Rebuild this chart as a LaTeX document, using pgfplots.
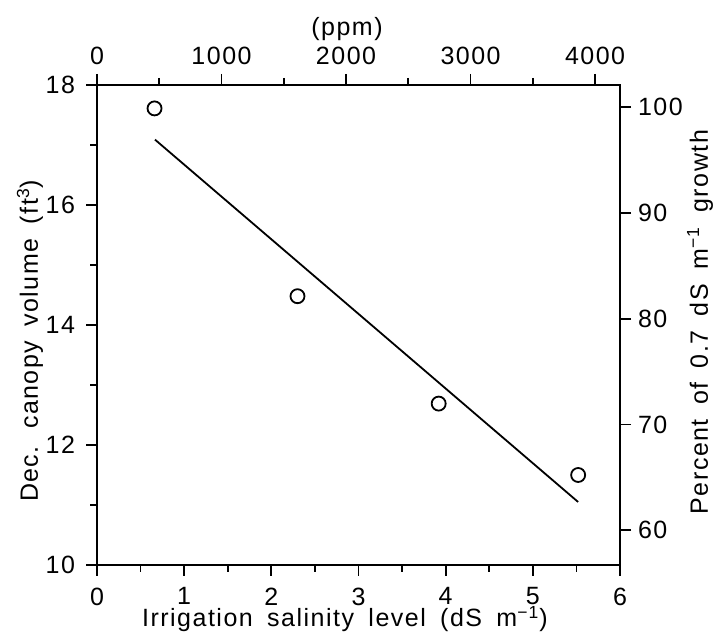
\documentclass[border=0pt]{standalone}
\usepackage{fontspec}
\setmainfont{Liberation Sans}[LetterSpace=6, WordSpace=1.7]
\usepackage{pgfplots}
\pgfplotsset{compat=1.18}
\begin{document}
\begin{tikzpicture}
\pgfplotsset{
  base/.style={
    scale only axis, width=261.5pt, height=240pt,
    font=\fontsize{12.5}{14}\selectfont,
    /pgf/number format/assume math mode=true,
    /pgf/number format/1000 sep={},
    tick align=outside,
    major tick length=5.5pt, minor tick length=3.5pt,
    every tick/.style={black, line width=0.9pt},
    every minor tick/.style={black, line width=0.9pt},
    axis line style={line width=1pt},
  }
}
% top axis (ppm)
\begin{axis}[base,
  xmin=0, xmax=4200, ymin=0, ymax=1,
  axis x line*=top, axis y line=none,
  xtick={0,1000,...,4000}, minor xtick={500,1500,...,3500},
  xticklabel pos=upper,
  xticklabel style={inner sep=1pt, yshift=3.2pt},
]
\end{axis}
% right axis (percent)
\begin{axis}[base,
  xmin=0, xmax=1, ymin=56.72, ymax=102.1,
  axis y line*=right, axis x line=none,
  ytick={60,70,...,100},
  yticklabel pos=right,
]
\end{axis}
% main axis
\begin{axis}[base,
  xmin=0, xmax=6, ymin=10, ymax=18,
  clip=false,
  xtick={0,1,...,6}, ytick={10,12,...,18},
  minor xtick={0.5,1.5,...,5.5}, minor ytick={11,13,15,17},
  xtick pos=bottom, ytick pos=left,
  xticklabel style={inner sep=1pt, yshift=-4.7pt},
  yticklabel style={xshift=-2pt},
]
\addplot[only marks, mark=o, mark size=3.5pt, mark options={line width=0.9pt}]
  coordinates {(0.66,17.61) (2.30,14.48) (3.92,12.69) (5.52,11.50)};
\addplot[line width=0.9pt, no marks] coordinates {(0.665,17.09) (5.52,11.05)};
\node[anchor=base, inner sep=0pt] at (rel axis cs:0.474,-0.129) {Irrigation salinity level (dS m\textsuperscript{−1})};
\node[anchor=center, rotate=90] at (rel axis cs:-0.128,0.467) {Dec. canopy volume (ft\textsuperscript{3})};
\node[anchor=base, inner sep=0pt] at (rel axis cs:0.478,1.104) {(ppm)};
\node[anchor=center, rotate=90] at (rel axis cs:1.153,0.506) {Percent of 0.7 dS m\textsuperscript{−1} growth};
\end{axis}
\pgfresetboundingbox
\path (-48.5pt,-35pt) rectangle (312.5pt,282.5pt);
\end{tikzpicture}
\end{document}
